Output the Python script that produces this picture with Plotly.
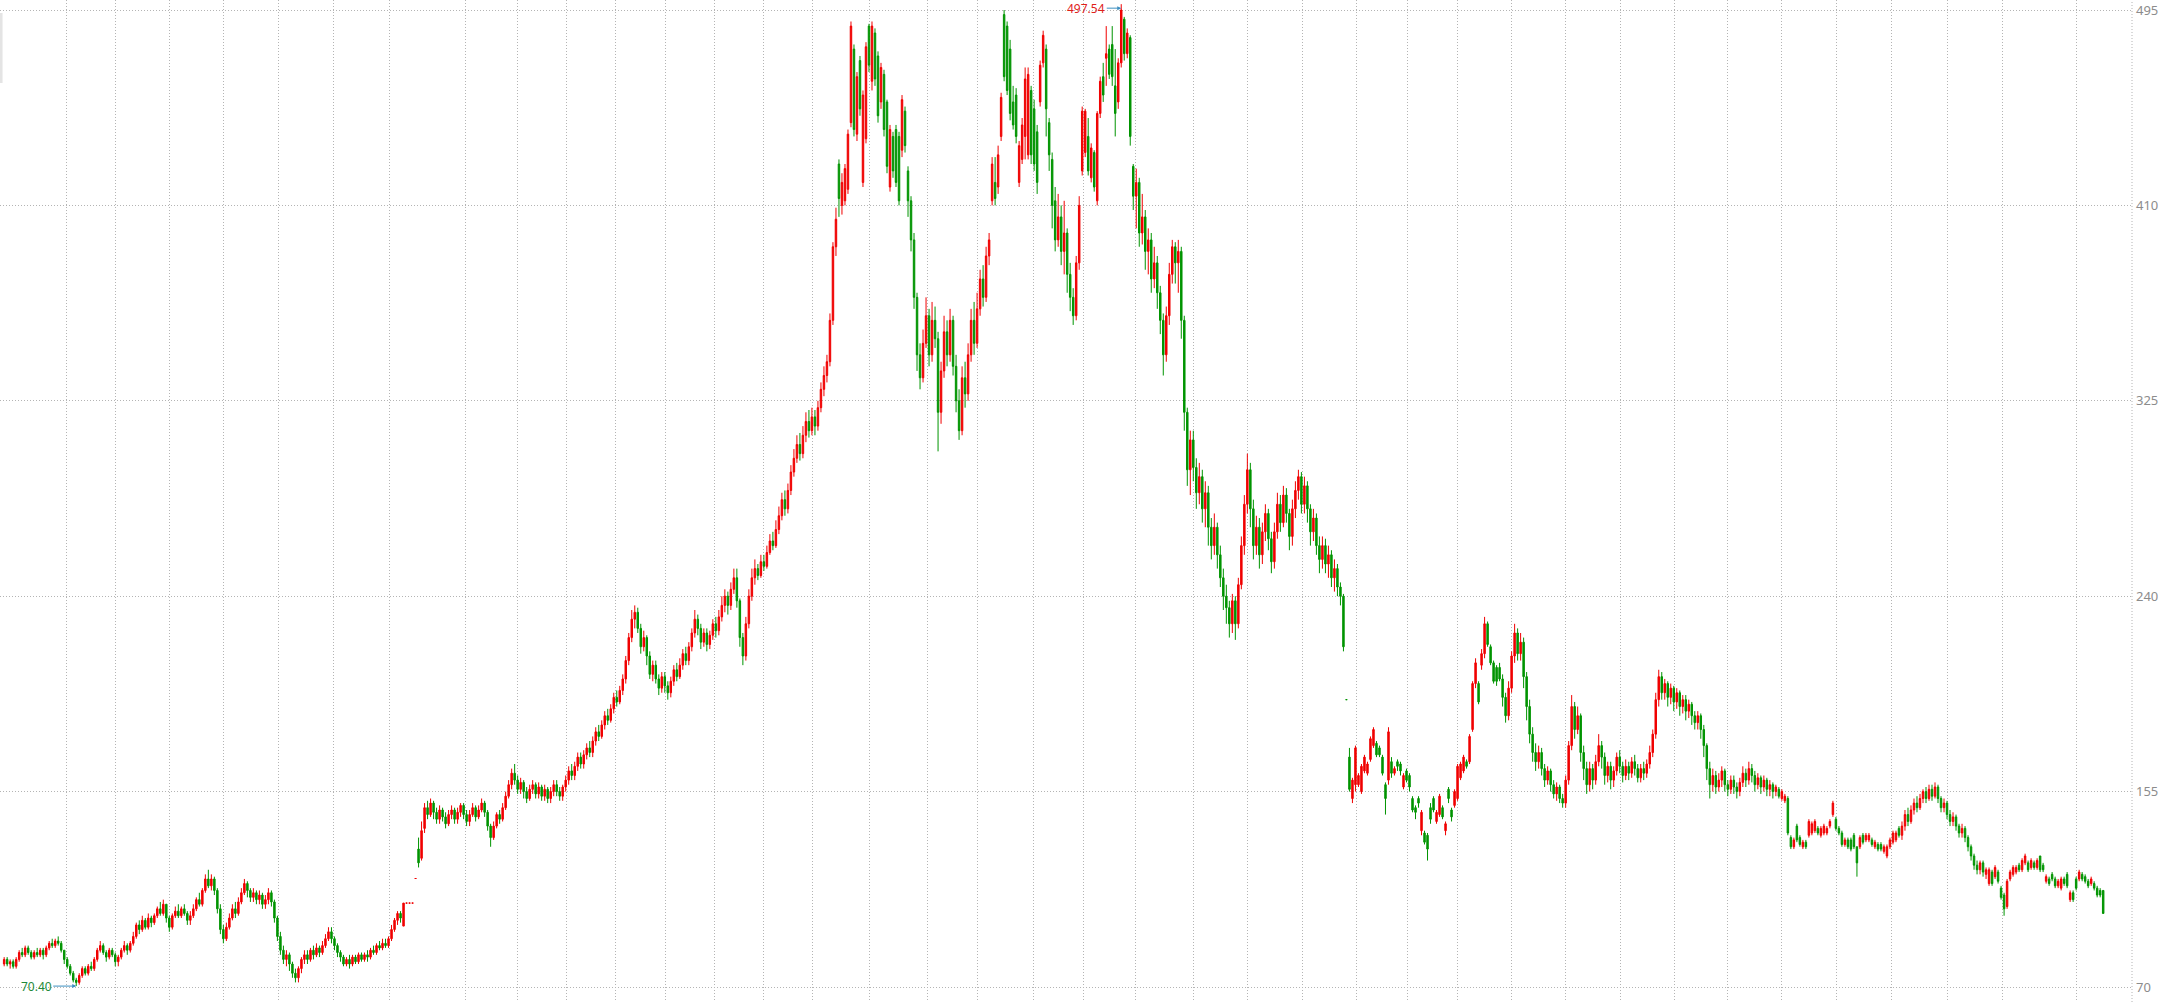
import plotly.graph_objects as go

# ---------------- data (daily candles) ----------------
opens = [
    80,82,80,81,79,82,85,84,87,85,
    83,85,84,86,84,87,89,88,90,89,
    86,82,79,76,73,72,75,78,76,79,
    78,82,86,88,85,83,86,84,81,83,
    86,88,86,89,92,97,95,99,96,100,
    98,101,104,102,106,100,96,101,103,101,
    104,102,99,101,104,108,106,112,117,114,
    117,112,104,95,91,96,100,104,102,107,
    111,115,112,109,111,108,110,106,108,111,
    107,100,92,86,82,84,80,76,74,78,
    82,84,82,86,84,87,85,88,91,94,
    91,88,85,83,80,82,80,83,81,84,
    82,84,83,86,85,88,87,89,88,91,
    95,99,102,96.5,106.5,106.5,106.5,117.2,130,126,
    139,148,145,150,146,143,147,144,141,145,
    147,143,146,149,145,142,145,148,144,147,
    150,146,140,135,140,145,143,148,153,158,
    163,160,156,159,155,152,156,158,154,157,
    153,156,152,155,158,155,153,157,160,164,
    162,166,170,167,171,174,172,177,181,179,
    184,188,186,191,196,194,199,204,212,222,
    230,233,226,218,222,214,206,210,204,200,
    205,201,198,203,208,205,210,215,212,218,
    224,230,226,220,224,219,223,228,225,231,
    236,240,236,243,248,238,222,214,228,240,
    248,252,249,255,253,259,264,262,269,275,
    282,278,286,294,300,306,302,310,316,312,
    318,314,322,330,336,342,360,392,428,410,
    412,417,446,478,441,473,420,439,488,464,
    485,475,455,467,455,418,440,443,440,434,
    451,425,412,395,370,345,335,350,362,345,
    360,352,320,338,355,345,360,340,325,312,
    335,328,345,360,350,365,378,370,388,412,
    420,418,440,493,488,478,455,458,420,430,
    440,432,460,452,442,455,472,478,446,430,
    412,395,405,390,398,380,370,362,385,425,
    433,440,422,433,412,450,466,474,478,480,
    462,455,472,491,476,483,427,414,420,398,
    405,390,395,378,385,372,360,345,362,380,
    392,385,390,360,320,295,308,296,285,292,
    278,285,270,262,270,258,248,240,235,228,
    238,228,245,262,280,295,278,262,270,258,
    268,276,265,255,268,280,272,284,276,266,
    278,286,292,280,288,278,268,274,262,256,
    262,254,258,248,252,244,240,195,170,152,
    158,158,155,164,163,169,175,176,174,170,
    158,160,168,163,168,167,157,164,162,152,
    148,152,138,137,136,148,152,142,145,148,
    138,156,147,149,152,161,164,168,168,182,
    202,202,210,215,228,218,211,209,209,204,
    196,188,200,214,224,215,220,205,192,180,
    172,168,172,165,160,164,158,154,157,152,
    150,160,175,192,182,188,172,165,158,165,
    160,168,175,170,162,166,160,164,170,166,
    162,166,163,168,165,161,165,163,167,172,
    180,195,205,198,202,196,200,194,198,192,
    195,190,193,188,185,188,182,175,165,158,
    162,157,160,164,158,156,160,157,155,159,
    163,160,165,162,158,161,157,160,156,158,
    155,156,152,151,152,135,131,140,135,131,
    133,136,137,138,139,136,137,137,140,145,
    143,139,137,132,134,134,136,131,131,136,
    134,134,134,131,132,132,129,127,131,133,
    134,139,136,140,145,142,147,150,148,152,
    155,152,156,153,157,152,148,150,145,142,
    144,140,137,139,135,131,127,123,121,124,
    119,115,120,118,120,113,110,105,117,119,
    120,123,121,124,124,122,124,122,127,123,
    116,117,119,117,114,113,117,119,108,111,
    117,117,119,118,116,115,115,113,112,112,
]
highs = [
    83,83,82,82,83,86,87,88,88,86,
    86,87,87,87,88,90,91,91,92,90,
    86,83,80,77,74,76,79,79,80,81,
    83,87,90,89,86,87,87,85,84,87,
    90,89,90,94,98,99,101,100,102,101,
    102,105,107,108,106,101,102,105,106,105,
    106,103,103,106,109,111,113,119,121,119,
    118,113,106,97,98,102,106,107,109,113,
    117,116,113,113,112,112,111,110,113,112,
    108,101,94,88,86,85,81,78,79,83,
    86,86,87,88,89,88,90,93,96,96,
    92,89,86,84,83,84,84,84,85,85,
    85,86,87,88,89,90,91,91,92,97,
    100,103,103,106.5,106.5,106.5,106.5,117.2,135,142,
    150,151,152,151,148,149,148,146,147,149,
    148,148,150,150,147,147,150,149,149,152,
    151,147,141,142,146,147,150,155,160,165,
    167,162,161,160,157,158,160,159,159,158,
    158,157,157,160,160,157,158,162,166,167,
    168,172,172,173,176,177,179,183,184,186,
    190,191,193,198,199,201,206,214,224,234,
    236,235,228,225,223,216,212,212,206,207,
    207,203,205,210,211,213,217,218,220,226,
    234,232,228,226,226,225,230,231,234,240,
    243,242,246,252,252,239,224,231,243,252,
    256,254,258,258,262,267,268,273,279,285,
    286,289,297,304,310,311,314,320,321,322,
    321,325,333,340,345,363,394,409,430,424,
    428,443,490,480,468,475,460,481,489,490,
    487,477,472,469,456,445,442,445,442,458,
    453,427,414,398,372,350,356,370,365,368,
    366,355,342,362,360,365,362,345,330,340,
    342,350,365,368,372,382,384,392,398,431,
    431,436,459,495,490,482,462,461,438,448,
    470,470,462,456,445,473,486,480,448,433,
    418,415,410,412,400,385,374,388,414,453,
    452,448,437,434,451,466,472,488,480,488,
    478,474,497.54,492,487,484,428,426,422,415,
    408,400,398,392,388,375,363,366,385,395,
    394,395,392,362,322,312,312,300,298,295,
    290,288,274,276,272,262,252,245,238,241,
    240,248,266,284,302,298,282,275,274,272,
    280,278,268,272,285,284,288,287,278,282,
    290,295,294,292,290,280,278,276,266,266,
    265,262,260,256,254,246,241,195,174,161,
    175,163,167,171,168,179,183,177,175,171,
    159,183,170,166,169,168,163,165,163,153,
    149,153,147,138,137,150,153,147,154,149,
    142,157,148,156,167,168,171,169,180,203,
    213,203,217,231,229,219,212,210,211,206,
    198,203,216,228,226,224,222,207,195,183,
    176,175,174,167,166,165,160,159,158,154,
    162,177,197,194,192,189,175,168,168,167,
    171,180,177,172,168,168,166,172,173,168,
    169,168,170,171,167,167,168,169,175,182,
    198,208,207,204,203,202,201,200,199,197,
    197,195,194,190,190,189,184,176,168,165,
    164,163,166,165,160,162,162,159,161,166,
    165,168,167,164,163,162,162,161,160,159,
    158,157,156,154,153,136,135,141,136,134,
    134,143,142,143,140,140,141,140,143,151,
    144,140,138,135,135,135,137,131,136,137,
    137,137,135,134,133,133,132,132,135,138,
    138,140,142,147,148,149,152,153,154,156,
    157,158,158,159,158,153,152,151,147,146,
    145,141,141,140,136,132,128,125,125,125,
    122,122,121,123,121,114,111,117,121,123,
    123,124,126,128,125,126,125,126,127,124,
    119,118,120,118,117,118,118,120,112,112,
    118,121,120,119,117,118,116,114,113,112,
]
lows = [
    79,79,78,78,78,81,83,83,84,82,
    82,83,83,82,83,86,87,87,88,85,
    80,78,75,72,70.4,71,74,75,75,77,
    77,81,85,84,81,82,83,79,79,82,
    85,84,85,88,91,93,94,95,95,96,
    97,100,101,101,98,94,95,100,100,100,
    101,97,97,100,103,105,105,111,113,112,
    110,102,93,89,90,95,99,100,101,106,
    110,109,107,107,106,106,104,104,106,105,
    98,90,84,80,79,77,74,72,72,76,
    80,80,81,82,83,83,84,87,90,89,
    86,83,81,79,79,78,79,80,80,81,
    81,81,82,84,84,86,86,87,87,90,
    94,97,98,96.5,106.5,106.5,106.5,117.2,122,125,
    137,143,144,143,141,141,142,139,140,143,
    141,141,144,143,140,140,144,142,143,146,
    144,138,131,134,139,141,142,147,152,156,
    158,154,154,152,150,151,154,152,152,151,
    151,150,150,153,153,151,151,155,158,160,
    160,164,165,165,169,170,170,175,177,178,
    182,184,185,189,192,193,197,202,210,220,
    226,224,215,216,210,204,203,202,197,198,
    198,195,196,201,203,204,208,210,210,216,
    222,223,217,218,216,217,221,222,223,229,
    233,232,234,241,235,218,210,212,226,238,
    245,247,248,251,252,258,260,261,267,273,
    275,276,284,292,298,299,300,307,309,310,
    310,312,320,327,333,340,358,388,405,406,
    410,415,444,440,438,449,418,437,468,460,
    462,446,452,440,424,416,422,418,410,431,
    433,405,390,365,338,330,333,348,340,342,
    348,303,315,335,340,342,336,320,308,310,
    322,325,342,345,348,362,366,368,384,410,
    410,415,438,464,458,447,443,437,418,428,
    430,430,428,425,415,453,470,440,425,400,
    390,392,384,380,372,364,358,360,382,423,
    431,423,420,416,410,448,455,462,465,462,
    440,452,470,473,474,436,408,400,392,393,
    382,380,372,374,365,354,336,342,358,376,
    376,372,352,312,288,284,290,278,280,272,
    270,262,256,258,252,244,234,228,222,224,
    221,226,243,258,276,270,256,258,252,254,
    264,260,250,252,265,268,270,272,260,262,
    274,282,276,276,272,262,264,258,250,252,
    250,248,244,242,240,236,216,195,155,150,
    155,157,154,163,162,168,174,170,170,162,
    145,158,161,162,164,162,156,159,155,146,
    143,148,136,132,125,141,146,141,144,143,
    136,150,142,148,151,160,163,165,167,181,
    200,193,208,213,218,210,202,201,203,192,
    185,186,198,211,212,212,200,186,176,168,
    164,165,162,157,158,155,152,151,150,148,
    148,158,173,178,180,168,160,154,155,156,
    158,166,165,158,159,156,157,162,163,159,
    160,160,161,162,159,159,160,161,165,170,
    178,192,195,195,192,193,190,191,188,189,
    186,187,184,182,182,178,170,160,152,155,
    154,155,157,155,153,154,154,152,153,157,
    157,158,159,155,156,154,155,153,153,152,
    153,152,151,150,136,130,130,133,131,130,
    130,135,136,137,136,135,136,136,139,144,
    138,136,131,131,130,129,130,118,130,132,
    133,133,131,130,129,129,128,126,130,132,
    133,135,134,138,140,141,145,146,147,150,
    150,151,151,152,150,146,146,143,140,140,
    138,135,135,133,129,125,121,119,119,118,
    117,114,114,117,115,108,101,104,116,118,
    119,120,120,123,120,121,121,121,120,120,
    115,114,116,113,113,112,114,113,107,107,
    112,116,116,115,113,114,112,109,109,102,
]
closes = [
    82,80,81,79,82,85,84,87,85,83,
    85,84,86,84,87,89,88,90,89,86,
    82,79,76,73,72,75,78,76,79,78,
    82,86,88,85,83,86,84,81,83,86,
    88,86,89,92,97,95,99,96,100,98,
    101,104,102,106,100,96,101,103,101,104,
    102,99,101,104,108,106,112,117,114,117,
    112,104,95,91,96,100,104,102,107,111,
    115,112,109,111,108,110,106,108,111,107,
    100,92,86,82,84,80,76,74,78,82,
    84,82,86,84,87,85,88,91,94,91,
    88,85,83,80,82,80,83,81,84,82,
    84,83,86,85,88,87,89,88,91,95,
    99,102,100,106.5,106.5,106.5,106.5,117.2,124,138,
    148,145,150,146,143,147,144,141,145,147,
    143,146,149,145,142,145,148,144,147,150,
    146,140,135,140,145,143,148,153,158,163,
    160,156,159,155,152,156,158,154,157,153,
    156,152,155,158,155,153,157,160,164,162,
    166,170,167,171,174,172,177,181,179,184,
    188,186,191,196,194,199,204,212,222,230,
    233,226,218,222,214,206,210,204,200,205,
    201,198,203,208,205,210,215,212,218,224,
    230,226,220,224,219,223,228,225,231,236,
    240,236,243,248,238,222,214,228,240,248,
    252,249,255,253,259,264,262,269,275,282,
    278,286,294,300,306,302,310,316,312,318,
    314,322,330,336,342,360,392,404,413,420,
    426,441,488,443,466,452,458,479,471,488,
    465,449,470,443,427,443,425,420,412,456,
    436,412,395,370,345,335,350,362,345,360,
    352,320,338,355,345,360,340,325,312,335,
    328,345,360,350,365,378,370,388,395,428,
    413,432,457,466,460,450,445,440,436,445,
    465,467,432,428,420,471,484,452,432,410,
    395,405,390,398,380,370,362,385,410,451,
    451,425,435,418,450,464,458,476,467,466,
    450,472,495,476,485,440,414,420,398,405,
    390,395,378,385,372,360,345,362,380,392,
    385,390,360,320,295,308,296,285,292,278,
    285,270,262,270,258,248,240,235,228,238,
    228,245,262,280,295,278,262,270,258,268,
    276,265,255,268,280,272,284,276,266,278,
    286,292,280,288,278,268,274,262,256,262,
    254,258,248,252,244,240,218,195,156,160,
    174,162,166,170,167,178,182,171,171,163,
    152,181,163,165,166,164,162,160,157,147,
    146,150,146,133,130,143,147,146,153,144,
    141,152,144,155,166,167,170,166,179,202,
    211,194,215,228,219,211,203,203,204,196,
    188,200,214,224,215,220,205,192,180,172,
    168,172,165,160,164,158,154,157,152,150,
    160,175,192,182,188,172,165,158,165,160,
    168,175,170,162,166,160,164,170,166,162,
    166,163,168,165,161,165,163,167,172,180,
    195,205,198,202,196,200,194,198,192,195,
    190,193,188,185,188,182,175,165,158,162,
    157,160,164,158,156,160,157,155,159,163,
    160,165,162,158,161,157,160,156,158,155,
    157,153,155,153,137,131,134,134,132,133,
    131,142,141,142,137,139,140,139,142,150,
    139,137,132,134,131,130,131,124,135,133,
    136,136,132,133,130,130,131,131,134,137,
    137,136,140,145,142,147,150,148,152,155,
    152,156,153,157,152,148,150,145,142,144,
    140,137,139,135,131,127,123,121,124,120,
    121,121,115,122,116,109,104,116,120,122,
    122,121,125,127,121,125,122,125,121,121,
    118,115,117,114,116,117,115,114,111,108,
    113,120,117,116,114,117,113,110,110,102,
]

price_ticks = [70, 155, 240, 325, 410, 495]
# month boundaries, in candle-index units
month_lines = [20.9, 37.2, 55.2, 73.2, 91.5, 109.8, 128.2, 153.5, 170.8, 187.1,
               203.7, 220.1, 236.4, 253.0, 269.3, 288.3, 307.6, 324.3, 342.9, 359.6,
               376.9, 395.9, 414.2, 432.2, 450.5, 467.2, 484.1, 502.1, 520.1, 538.1,
               556.1, 574.0, 592.0, 610.3, 628.6, 647.2, 665.6, 690.2]

n = len(closes)
assert len(opens) == n and len(highs) == n and len(lows) == n, (len(opens), len(highs), len(lows), n)
x = list(range(n))

RED = '#f00000'
GREEN = '#009400'
GRID = '#b4b4b4'

fig = go.Figure()
fig.add_trace(go.Candlestick(
    x=x, open=opens, high=highs, low=lows, close=closes,
    increasing=dict(line=dict(color=RED, width=1), fillcolor=RED),
    decreasing=dict(line=dict(color=GREEN, width=1), fillcolor=GREEN),
    whiskerwidth=0, hoverinfo='skip', showlegend=False,
))

hi_i = max(range(n), key=lambda i: highs[i])
lo_i = min(range(n), key=lambda i: lows[i])

fig.add_annotation(x=hi_i, y=highs[hi_i], text=f"{highs[hi_i]:.2f}", showarrow=True,
                   ax=-35, ay=0, yshift=-4, arrowcolor='#3d8fc0', arrowwidth=1, arrowhead=2,
                   arrowsize=0.8, standoff=0, font=dict(family='Noto Sans', size=12, color='#e0201a'))
fig.add_annotation(x=lo_i, y=lows[lo_i], text=f"{lows[lo_i]:.2f}", showarrow=True,
                   ax=-40, ay=0, arrowcolor='#3d8fc0', arrowwidth=1, arrowhead=2,
                   arrowsize=0.8, standoff=0, font=dict(family='Noto Sans', size=12, color='#1f8a3a'))

fig.update_layout(
    width=2174, height=1002,
    margin=dict(l=0, r=42, t=0, b=0),
    paper_bgcolor='white', plot_bgcolor='white',
    showlegend=False, hovermode=False,
    xaxis=dict(range=[-1.385, 708.6], rangeslider=dict(visible=False),
               tickvals=month_lines, showticklabels=False, ticks='',
               showgrid=True, gridcolor=GRID, gridwidth=1, griddash='1px,2px',
               zeroline=False, showline=False),
    yaxis=dict(side='right', range=[63.475, 499.35], tickvals=price_ticks,
               ticktext=[str(v) for v in price_ticks], ticks='', ticklabelstandoff=3,
               showgrid=True, gridcolor=GRID, gridwidth=1, griddash='1px,2px',
               zeroline=False, showline=False,
               tickfont=dict(family='Noto Sans', size=13, color='#8c8c8c')),
    shapes=[
        dict(type='line', xref='paper', yref='paper', x0=1, x1=1, y0=0, y1=1,
             line=dict(color=GRID, width=1, dash='1px,2px')),
        dict(type='rect', xref='paper', yref='paper', x0=0, x1=0.0012,
             y0=1 - 83 / 1002, y1=1 - 13 / 1002, fillcolor='#e4e4e4', line=dict(width=0)),
    ],
)

fig.write_html("out.html", config={'displayModeBar': False},
               post_script="document.body.style.margin='0';document.body.style.overflow='hidden';")
